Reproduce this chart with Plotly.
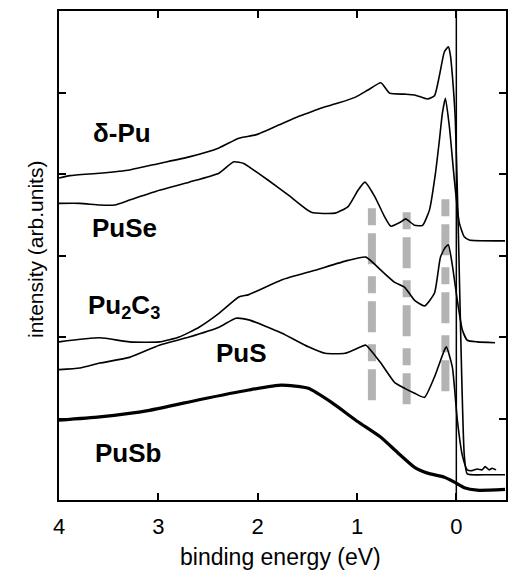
import plotly.graph_objects as go

# ---- data (binding energy in eV, intensity in arb. units) ----
dpu_x = [4.00, 3.89, 3.59, 3.29, 2.99, 2.69, 2.39, 2.19, 2.02, 1.79, 1.62, 1.49, 1.36, 1.19, 1.02,
         0.89, 0.76, 0.67, 0.52, 0.42, 0.29, 0.22, 0.17, 0.12, 0.08, 0.06, 0.04, 0.01, -0.02,
         -0.05, -0.08, -0.11, -0.31, -0.49]
dpu_y = [3.95, 3.98, 4.01, 4.05, 4.13, 4.21, 4.32, 4.44, 4.48, 4.60, 4.69, 4.75, 4.81, 4.87, 4.94,
         5.03, 5.12, 4.99, 4.98, 4.97, 4.92, 4.96, 5.21, 5.50, 5.56, 5.46, 5.21, 4.66, 3.31,
         1.72, 0.55, 0.32, 0.31, 0.31]

puse_x = [4.00, 3.79, 3.59, 3.44, 3.29, 2.99, 2.69, 2.39, 2.24, 2.14, 2.09, 1.89, 1.69, 1.46, 1.22,
          1.09, 0.99, 0.92, 0.82, 0.72, 0.66, 0.56, 0.51, 0.42, 0.34, 0.27, 0.21, 0.17, 0.14,
          0.11, 0.07, 0.02, -0.03, -0.08, -0.13, -0.49]
puse_y = [3.64, 3.64, 3.62, 3.62, 3.68, 3.80, 3.90, 4.01, 4.15, 4.13, 4.09, 3.92, 3.74, 3.53, 3.52,
          3.60, 3.80, 3.90, 3.72, 3.47, 3.36, 3.41, 3.45, 3.37, 3.37, 3.56, 4.01, 4.42, 4.75,
          4.93, 4.58, 3.93, 3.40, 3.23, 3.19, 3.18]

pu2c3_x = [4.00, 3.59, 3.29, 2.99, 2.79, 2.59, 2.39, 2.19, 2.09, 1.76, 1.42, 1.09, 0.91, 0.76, 0.62,
           0.52, 0.42, 0.32, 0.22, 0.16, 0.11, 0.08, 0.04, -0.01, -0.06, -0.11, -0.21, -0.39]
pu2c3_y = [1.94, 1.99, 1.94, 1.94, 2.00, 2.12, 2.29, 2.49, 2.52, 2.70, 2.82, 2.94, 2.98, 2.82, 2.67,
           2.61, 2.45, 2.38, 2.54, 2.98, 3.10, 3.13, 2.88, 2.45, 2.09, 1.96, 1.94, 1.93]

pus_x = [4.00, 3.79, 3.59, 3.29, 2.99, 2.69, 2.39, 2.22, 2.09, 1.76, 1.49, 1.32, 1.12, 0.96, 0.91,
         0.76, 0.62, 0.52, 0.42, 0.32, 0.22, 0.12, 0.10, 0.04, -0.01, -0.06, -0.11, -0.16, -0.21,
         -0.26, -0.29, -0.33, -0.36, -0.40]
pus_y = [1.60, 1.62, 1.68, 1.75, 1.90, 2.00, 2.12, 2.23, 2.21, 2.05, 1.88, 1.80, 1.80, 1.88, 1.90,
         1.68, 1.44, 1.37, 1.31, 1.26, 1.51, 1.84, 1.88, 1.63, 0.98, 0.55, 0.37, 0.36, 0.38,
         0.37, 0.41, 0.37, 0.39, 0.37]

pusb_x = [4.00, 3.59, 3.09, 2.59, 2.09, 1.76, 1.49, 1.26, 0.99, 0.76, 0.59, 0.42, 0.29, 0.12, 0.02,
          -0.08, -0.21, -0.49]
pusb_y = [0.98, 1.02, 1.10, 1.23, 1.35, 1.41, 1.37, 1.20, 0.96, 0.77, 0.58, 0.40, 0.33, 0.28, 0.22,
          0.15, 0.12, 0.13]

# guide lines (gray dashed) positions and extents
guide_x = [0.85, 0.50, 0.11]
guide_y0 = [1.16, 1.16, 1.25]
guide_y1 = [3.58, 3.53, 3.69]

x_ticks = [4, 3, 2, 1, 0]
x_tick_labels = ["4", "3", "2", "1", "0"]
y_ticks = [1, 2, 3, 4, 5]

labels = ["δ-Pu", "PuSe", "Pu<sub>2</sub>C<sub>3</sub>", "PuS", "PuSb"]
label_x = [3.37, 3.34, 3.35, 2.16, 3.31]
label_y = [4.50, 3.34, 2.38, 1.80, 0.58]

FONT = "Liberation Sans, Arial, Helvetica, sans-serif"

fig = go.Figure()

for gx, g0, g1 in zip(guide_x, guide_y0, guide_y1):
    fig.add_trace(go.Scatter(x=[gx, gx], y=[g1, g0], mode="lines",
                             line=dict(color="#b3b3b3", width=8, dash="17px,8px,31px,12px"),
                             hoverinfo="skip", showlegend=False))

for xs, ys, w in [(dpu_x, dpu_y, 1.6), (puse_x, puse_y, 1.6), (pu2c3_x, pu2c3_y, 1.6),
                  (pus_x, pus_y, 1.6), (pusb_x, pusb_y, 3.2)]:
    fig.add_trace(go.Scatter(x=xs, y=ys, mode="lines",
                             line=dict(color="black", width=w, shape="spline", smoothing=0.5),
                             showlegend=False))

fig.add_shape(type="line", xref="x", yref="paper", x0=0, x1=0, y0=0, y1=1,
              line=dict(color="black", width=1.5))

for t, lx, ly in zip(labels, label_x, label_y):
    fig.add_annotation(x=lx, y=ly, xref="x", yref="y", text="<b>" + t + "</b>",
                       showarrow=False, font=dict(family=FONT, size=26, color="black"))

fig.add_annotation(x=0.5, y=0, xref="paper", yref="paper", yshift=-57, xshift=-2,
                   yanchor="middle",
                   text="binding energy (eV)", showarrow=False,
                   font=dict(family=FONT, size=23, color="black"))
fig.add_annotation(x=0, y=0.5, xref="paper", yref="paper", xshift=-37, yshift=6,
                   text="intensity (arb.units)", showarrow=False, textangle=-90,
                   font=dict(family=FONT, size=21, color="black"))

fig.update_layout(
    width=509, height=572,
    margin=dict(l=59, r=1, t=11, b=72),
    paper_bgcolor="white", plot_bgcolor="white",
    showlegend=False,
    xaxis=dict(range=[4, -0.5], tickvals=x_ticks, ticktext=x_tick_labels,
               ticks="inside", ticklen=7, tickwidth=1.5, tickcolor="black",
               showline=True, linewidth=2, linecolor="black", mirror="ticks",
               showgrid=False, zeroline=False, ticklabelstandoff=6,
               tickfont=dict(family=FONT, size=22, color="black")),
    yaxis=dict(range=[0, 6], tickvals=y_ticks, showticklabels=False,
               ticks="inside", ticklen=7, tickwidth=1.5, tickcolor="black",
               showline=True, linewidth=2, linecolor="black", mirror="ticks",
               showgrid=False, zeroline=False),
)

fig.write_html("out.html", config={"displayModeBar": False},
               post_script="document.body.style.margin='0';")
